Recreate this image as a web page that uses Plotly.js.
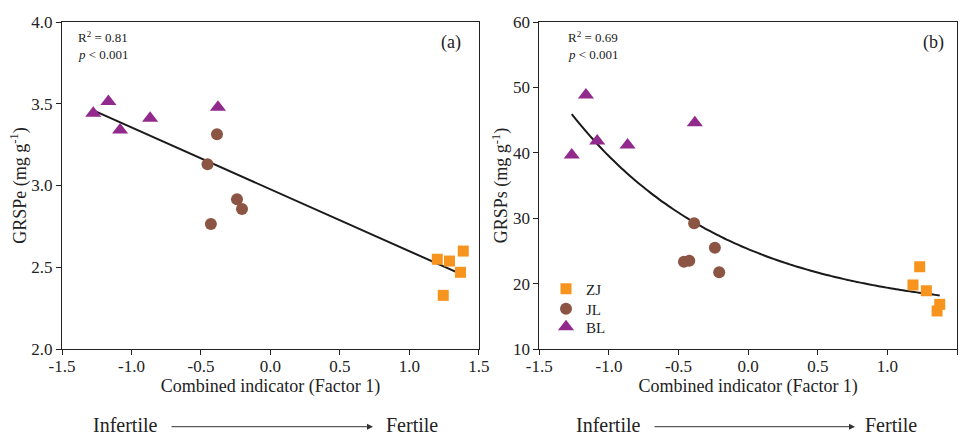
<!DOCTYPE html>
<html><head><meta charset="utf-8">
<script src="https://cdn.plot.ly/plotly-3.0.1.min.js"></script>
<style>html,body{margin:0;padding:0;background:#fff}#chart{width:967px;height:435px}</style>
</head><body><div id="chart"></div>
<script>
// ---- data ----
const groups = ['ZJ', 'JL', 'BL'];
// panel (a): GRSPe vs Factor 1
const zjFactorA = [1.200, 1.288, 1.387, 1.367, 1.243];
const zjGRSPe   = [2.549, 2.538, 2.599, 2.469, 2.328];
const jlFactorA = [-0.385, -0.453, -0.241, -0.205, -0.429];
const jlGRSPe   = [3.313, 3.130, 2.916, 2.856, 2.765];
const blFactorA = [-1.275, -1.166, -1.082, -0.866, -0.378];
const blGRSPe   = [3.442, 3.513, 3.340, 3.411, 3.478];
// panel (b): GRSPs vs Factor 1
const zjFactorB = [1.232, 1.184, 1.280, 1.376, 1.357];
const zjGRSPs   = [22.58, 19.79, 18.91, 16.83, 15.81];
const jlFactorB = [-0.388, -0.239, -0.461, -0.423, -0.208];
const jlGRSPs   = [29.22, 25.49, 23.35, 23.50, 21.73];
const blFactorB = [-1.267, -1.165, -1.084, -0.866, -0.383];
const blGRSPs   = [39.66, 48.84, 41.80, 41.19, 44.60];
// tick labels
const xTickVals = [-1.5, -1.0, -0.5, 0, 0.5, 1.0, 1.5];
const xTickText = ['-1.5', '-1.0', '-0.5', '0.0', '0.5', '1.0', '1.5'];
const yTickValsA = [2.0, 2.5, 3.0, 3.5, 4.0];
const yTickTextA = ['2.0', '2.5', '3.0', '3.5', '4.0'];
const yTickValsB = [10, 20, 30, 40, 50, 60];
const yTickTextB = ['10', '20', '30', '40', '50', '60'];
const statsA = ['R<sup>2</sup> = 0.81', '<i>p</i> &lt; 0.001'];
const statsB = ['R<sup>2</sup> = 0.69', '<i>p</i> &lt; 0.001'];

// ---- styles ----
const colors = {ZJ: '#F7941D', JL: '#8C5543', BL: '#922A8E'};
const symbols = {ZJ: 'square', JL: 'circle', BL: 'triangle-up'};
const sizes = {ZJ: 11, JL: 12, BL: 14};
const legendRowY = {ZJ: 289, JL: 309, BL: 327};
const legendIds = {ZJ: 'legend', JL: 'legend2', BL: 'legend3'};
const FONT = 'Liberation Serif';
const INK = '#222';

// ---- fits ----
function linFit(xs, ys) {
  const n = xs.length;
  const mx = xs.reduce((a, b) => a + b, 0) / n;
  const my = ys.reduce((a, b) => a + b, 0) / n;
  let sxy = 0, sxx = 0;
  for (let i = 0; i < n; i++) { sxy += (xs[i] - mx) * (ys[i] - my); sxx += (xs[i] - mx) ** 2; }
  const b = sxy / sxx;
  return {a: my - b * mx, b: b};
}
function expFit(xs, ys) { // y = c + A*exp(k*x), least squares
  let best = null;
  for (let k = -4; k <= -0.01; k += 0.001) {
    const zs = xs.map(x => Math.exp(k * x));
    const f = linFit(zs, ys);
    let sse = 0;
    for (let i = 0; i < xs.length; i++) sse += (ys[i] - (f.a + f.b * zs[i])) ** 2;
    if (!best || sse < best.sse) best = {sse: sse, c: f.a, A: f.b, k: k};
  }
  return best;
}

const allXA = blFactorA.concat(jlFactorA, zjFactorA);
const allYA = blGRSPe.concat(jlGRSPe, zjGRSPe);
const allXB = blFactorB.concat(jlFactorB, zjFactorB);
const allYB = blGRSPs.concat(jlGRSPs, zjGRSPs);
const fa = linFit(allXA, allYA);
const xa0 = Math.min(...allXA), xa1 = Math.max(...allXA);
const fb = expFit(allXB, allYB);
const xb0 = Math.min(...allXB), xb1 = Math.max(...allXB);
const curveXB = [], curveYB = [];
for (let i = 0; i <= 80; i++) {
  const x = xb0 + (xb1 - xb0) * i / 80;
  curveXB.push(x); curveYB.push(fb.c + fb.A * Math.exp(fb.k * x));
}

const dataA = {ZJ: [zjFactorA, zjGRSPe], JL: [jlFactorA, jlGRSPe], BL: [blFactorA, blGRSPe]};
const dataB = {ZJ: [zjFactorB, zjGRSPs], JL: [jlFactorB, jlGRSPs], BL: [blFactorB, blGRSPs]};

const traces = [];
traces.push({x: [xa0, xa1], y: [fa.a + fa.b * xa0, fa.a + fa.b * xa1], mode: 'lines',
  line: {color: '#1a1a1a', width: 2}, xaxis: 'x', yaxis: 'y', showlegend: false, hoverinfo: 'skip'});
traces.push({x: curveXB, y: curveYB, mode: 'lines', line: {color: '#1a1a1a', width: 2, shape: 'spline'},
  xaxis: 'x2', yaxis: 'y2', showlegend: false, hoverinfo: 'skip'});
groups.forEach(g => {
  traces.push({x: dataA[g][0], y: dataA[g][1], mode: 'markers', name: g, xaxis: 'x', yaxis: 'y',
    showlegend: false, marker: {symbol: symbols[g], color: colors[g], size: sizes[g], line: {width: 0}}});
});
groups.forEach(g => {
  traces.push({x: dataB[g][0], y: dataB[g][1], mode: 'markers', name: g, xaxis: 'x2', yaxis: 'y2',
    showlegend: true, legend: legendIds[g], marker: {symbol: symbols[g], color: colors[g], size: sizes[g], line: {width: 0}}});
});

const axisBase = {showline: true, mirror: true, linecolor: INK, linewidth: 1, ticks: 'outside', ticklen: 5,
  tickwidth: 1, tickcolor: INK, showgrid: false, zeroline: false, tickfont: {family: FONT, size: 17, color: INK}};
const xTitle = {text: 'Combined indicator (Factor 1)', font: {family: FONT, size: 18, color: INK}, standoff: 1};

const PL = 62, PW = 895, PB = 349, PH = 327;
const px = v => (v - PL) / PW;
const py = v => (PB - v) / PH;

function legendAt(rowY) {
  return {x: px(546), y: py(rowY), xanchor: 'left', yanchor: 'middle', bgcolor: 'rgba(0,0,0,0)',
    font: {family: FONT, size: 15, color: INK}, itemwidth: 30, borderwidth: 0};
}

const layout = {
  width: 967, height: 435,
  margin: {l: PL, r: 10, t: 22, b: 86},
  paper_bgcolor: '#fff', plot_bgcolor: '#fff',
  font: {family: FONT, color: INK},
  showlegend: true,
  legend: legendAt(legendRowY.ZJ),
  legend2: legendAt(legendRowY.JL),
  legend3: legendAt(legendRowY.BL),
  xaxis: Object.assign({}, axisBase, {domain: [0, 0.4659], range: [-1.5, 1.5], tickvals: xTickVals, ticktext: xTickText, ticklabelstandoff: -3, title: xTitle, anchor: 'y'}),
  yaxis: Object.assign({}, axisBase, {domain: [0, 1], range: [2, 4], tickvals: yTickValsA, ticktext: yTickTextA, anchor: 'x',
    title: {text: 'GRSPe (mg g<sup>-1</sup>)', font: {family: FONT, size: 18, color: INK}, standoff: 0}}),
  xaxis2: Object.assign({}, axisBase, {domain: [0.5333, 1], range: [-1.5, 1.5], tickvals: xTickVals, ticktext: xTickText, ticklabelstandoff: -3, title: xTitle, anchor: 'y2'}),
  yaxis2: Object.assign({}, axisBase, {domain: [0, 1], range: [10, 60], tickvals: yTickValsB, ticktext: yTickTextB, anchor: 'x2',
    title: {text: 'GRSPs (mg g<sup>-1</sup>)', font: {family: FONT, size: 18, color: INK}, standoff: 0}}),
  annotations: [
    {xref: 'paper', yref: 'paper', x: px(76), y: py(36.5), xanchor: 'left', yanchor: 'middle', text: statsA[0], showarrow: false, font: {family: FONT, size: 13, color: INK}},
    {xref: 'paper', yref: 'paper', x: px(76), y: py(54), xanchor: 'left', yanchor: 'middle', text: statsA[1], showarrow: false, font: {family: FONT, size: 13, color: INK}},
    {xref: 'paper', yref: 'paper', x: px(463), y: py(42), xanchor: 'right', yanchor: 'middle', text: '(a)', showarrow: false, font: {family: FONT, size: 18, color: INK}},
    {xref: 'paper', yref: 'paper', x: px(566), y: py(36.5), xanchor: 'left', yanchor: 'middle', text: statsB[0], showarrow: false, font: {family: FONT, size: 13, color: INK}},
    {xref: 'paper', yref: 'paper', x: px(566), y: py(54), xanchor: 'left', yanchor: 'middle', text: statsB[1], showarrow: false, font: {family: FONT, size: 13, color: INK}},
    {xref: 'paper', yref: 'paper', x: px(946), y: py(42), xanchor: 'right', yanchor: 'middle', text: '(b)', showarrow: false, font: {family: FONT, size: 18, color: INK}},
    // Infertile -> Fertile
    {xref: 'paper', yref: 'paper', x: px(125), y: py(425), xanchor: 'center', yanchor: 'middle', height: 20, text: 'Infertile', showarrow: false, font: {family: FONT, size: 20, color: INK}},
    {xref: 'paper', yref: 'paper', x: px(411.5), y: py(425), xanchor: 'center', yanchor: 'middle', height: 20, text: 'Fertile', showarrow: false, font: {family: FONT, size: 20, color: INK}},
    {xref: 'paper', yref: 'paper', x: px(373), y: py(426.7), ax: -203, ay: 0, text: '', showarrow: true, arrowhead: 2, arrowsize: 1.2, arrowwidth: 1, arrowcolor: '#333', standoff: 0, startstandoff: 0},
    {xref: 'paper', yref: 'paper', x: px(608.5), y: py(425), xanchor: 'center', yanchor: 'middle', height: 20, text: 'Infertile', showarrow: false, font: {family: FONT, size: 20, color: INK}},
    {xref: 'paper', yref: 'paper', x: px(891), y: py(425), xanchor: 'center', yanchor: 'middle', height: 20, text: 'Fertile', showarrow: false, font: {family: FONT, size: 20, color: INK}},
    {xref: 'paper', yref: 'paper', x: px(855), y: py(426.7), ax: -202, ay: 0, text: '', showarrow: true, arrowhead: 2, arrowsize: 1.2, arrowwidth: 1, arrowcolor: '#333', standoff: 0, startstandoff: 0}
  ]
};

Plotly.newPlot('chart', traces, layout, {displayModeBar: false, staticPlot: true});
</script>
</body></html>
